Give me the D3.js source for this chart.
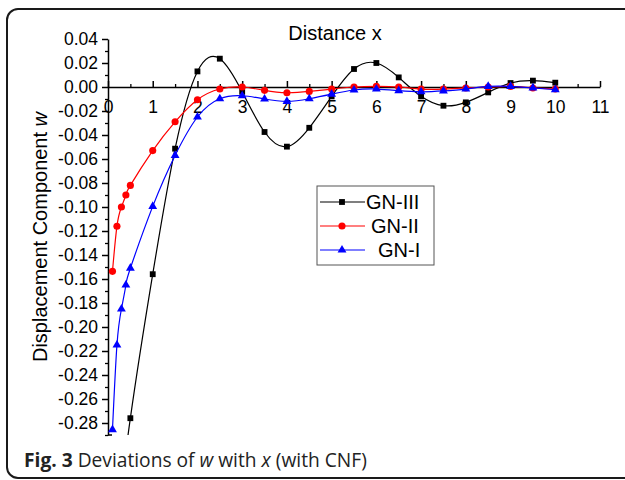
<!DOCTYPE html>
<html>
<head>
<meta charset="utf-8">
<script src="https://cdn.jsdelivr.net/npm/d3@7"></script>
<style>
  body { margin: 0; background: #fff; }
  svg { display: block; }
</style>
</head>
<body>
<svg id="chart" width="625" height="480"></svg>
<script>
// x positions (distance x)
const xs = [0.5, 1, 1.5, 2, 2.5, 3, 3.5, 4, 4.5, 5, 5.5, 6, 6.5, 7, 7.5, 8, 8.5, 9, 9.5, 10];
const xsNear = [0.1, 0.2, 0.3, 0.4, 0.5, 1, 1.5, 2, 2.5, 3, 3.5, 4, 4.5, 5, 5.5, 6, 6.5, 7, 7.5, 8, 8.5, 9, 9.5, 10];

// GN-III, first value at x=0 lies below the visible range (line runs off the bottom)
const gn3x = [0].concat(xs);
const gn3 = [-0.42, -0.276, -0.156, -0.0514, 0.013, 0.0236, -0.004, -0.0375, -0.0497, -0.034, -0.0078,
             0.015, 0.020, 0.008, -0.0078, -0.0156, -0.0128, -0.0045, 0.0033, 0.0053, 0.0036];
const gn2 = [-0.1536, -0.116, -0.100, -0.090, -0.082, -0.053, -0.029, -0.0106, -0.0017, 0.0, -0.0028,
             -0.0048, -0.0037, -0.0017, 0.0, 0.0005, 0.0, -0.0017, -0.0017, -0.0008, 0.0, 0.0005, -0.0008, -0.0017];
const gn1 = [-0.2856, -0.215, -0.185, -0.165, -0.151, -0.0995, -0.057, -0.025, -0.0098, -0.0073, -0.010,
             -0.012, -0.0098, -0.006, -0.0025, -0.0017, -0.003, -0.004, -0.0033, -0.0017, 0.0005, 0.0005, -0.0008, -0.0022];

const seriesNames = ["GN-III", "GN-II", "GN-I"];
const xTicks = [0, 1, 2, 3, 4, 5, 6, 7, 8, 9, 10, 11];
const yTicks = [0.04, 0.02, 0.00, -0.02, -0.04, -0.06, -0.08, -0.10, -0.12, -0.14, -0.16, -0.18, -0.20, -0.22, -0.24, -0.26, -0.28];

const svg = d3.select("#chart");
const chartFont = "'Liberation Sans', Arial, sans-serif";

// outer frame
svg.append("rect")
    .attr("x", 7).attr("y", 9)
    .attr("width", 640).attr("height", 469)
    .attr("rx", 11)
    .attr("fill", "none")
    .attr("stroke", "#1a1a1a")
    .attr("stroke-width", 2);

const x = d3.scaleLinear().domain([0, 11]).range([108, 600]);
const y = d3.scaleLinear().domain([-0.29, 0.04]).range([435, 39]);

const fmt = d => {
    const s = Math.abs(d).toFixed(2);
    return (d < -1e-9 ? "-" : "") + s;
};

// y axis, minor ticks first
const yMinor = d3.range(0.03, -0.295, -0.02);
svg.append("g")
    .attr("transform", `translate(${x(0)},0)`)
    .call(d3.axisLeft(y).tickValues(yMinor).tickSize(3).tickFormat(""))
    .call(g => g.select(".domain").remove())
    .selectAll("line").attr("stroke-width", 1.3);

const yAxis = svg.append("g")
    .attr("transform", `translate(${x(0)},0)`)
    .call(d3.axisLeft(y).tickValues(yTicks).tickSize(6).tickSizeOuter(0).tickPadding(4).tickFormat(fmt));
yAxis.select(".domain").attr("stroke-width", 1.5);
yAxis.selectAll("line").attr("stroke-width", 1.5);
yAxis.selectAll("text")
    .attr("font-family", chartFont)
    .attr("font-size", 17.5)
    .attr("fill", "#000");

// small closing tick at the bottom of the y axis
svg.append("line")
    .attr("x1", x(0)).attr("x2", x(0) + 4)
    .attr("y1", y(-0.29)).attr("y2", y(-0.29))
    .attr("stroke", "#000").attr("stroke-width", 1.5);

// x axis along y = 0, ticks pointing up
const xMinor = d3.range(0.5, 11, 1);
svg.append("g")
    .attr("transform", `translate(0,${y(0)})`)
    .call(d3.axisBottom(x).tickValues(xMinor).tickSize(-3).tickFormat(""))
    .call(g => g.select(".domain").remove())
    .selectAll("line").attr("stroke-width", 1.3);

const xAxis = svg.append("g")
    .attr("transform", `translate(0,${y(0)})`)
    .call(d3.axisBottom(x).tickValues(xTicks).tickSize(-6).tickSizeOuter(0).tickPadding(14).tickFormat(d3.format("d")));
xAxis.select(".domain").attr("stroke-width", 1.5);
xAxis.selectAll("line").attr("stroke-width", 1.5);
xAxis.selectAll("text")
    .attr("font-family", chartFont)
    .attr("font-size", 17.5)
    .attr("fill", "#000");

// titles
svg.append("text")
    .attr("x", 335).attr("y", 40)
    .attr("text-anchor", "middle")
    .attr("font-family", chartFont)
    .attr("font-size", 20)
    .text("Distance x");

const yLab = svg.append("text")
    .attr("transform", "translate(47,237) rotate(-90)")
    .attr("text-anchor", "middle")
    .attr("font-family", chartFont)
    .attr("font-size", 20);
yLab.append("tspan").text("Displacement Component ");
yLab.append("tspan").attr("font-style", "italic").text("w");

// clip region for the plot
svg.append("clipPath").attr("id", "plotClip")
    .append("rect")
    .attr("x", x(0)).attr("y", y(0.04))
    .attr("width", x(11) - x(0)).attr("height", y(-0.29) - y(0.04));

const series = [
    { name: seriesNames[0], xv: gn3x, yv: gn3, color: "#000000", shape: d3.symbolSquare, size: 34 },
    { name: seriesNames[1], xv: xsNear, yv: gn2, color: "#ff0000", shape: d3.symbolCircle, size: 40 },
    { name: seriesNames[2], xv: xsNear, yv: gn1, color: "#0000ff", shape: d3.symbolTriangle, size: 34 }
];

const line = d3.line()
    .x(d => x(d[0]))
    .y(d => y(d[1]))
    .curve(d3.curveNatural);

const plot = svg.append("g").attr("clip-path", "url(#plotClip)");

series.forEach(s => {
    const pts = s.xv.map((v, i) => [v, s.yv[i]]);
    plot.append("path")
        .datum(pts)
        .attr("d", line)
        .attr("fill", "none")
        .attr("stroke", s.color)
        .attr("stroke-width", 1.2);
    plot.selectAll(null)
        .data(pts)
        .enter()
        .append("path")
        .attr("transform", d => `translate(${x(d[0])},${y(d[1])})`)
        .attr("d", d3.symbol().type(s.shape).size(s.size))
        .attr("fill", s.color);
});

// legend
const lg = svg.append("g").attr("transform", "translate(317,186)");
lg.append("rect")
    .attr("width", 117).attr("height", 79)
    .attr("fill", "#fff")
    .attr("stroke", "#555")
    .attr("stroke-width", 1);
const textX = [49, 54, 61];
series.forEach((s, i) => {
    const row = lg.append("g").attr("transform", `translate(0,${16 + i * 24})`);
    row.append("line")
        .attr("x1", 3).attr("x2", 48)
        .attr("stroke", s.color)
        .attr("stroke-width", 1.2);
    row.append("path")
        .attr("transform", "translate(25,0)")
        .attr("d", d3.symbol().type(s.shape).size(s.size))
        .attr("fill", s.color);
    row.append("text")
        .attr("x", textX[i]).attr("y", 7)
        .attr("font-family", chartFont)
        .attr("font-size", 20)
        .text(s.name);
});

// caption
const cap = svg.append("text")
    .attr("x", 24).attr("y", 467)
    .attr("font-family", "'Open Sans', sans-serif")
    .attr("font-size", 19.2)
    .attr("fill", "#222");
cap.append("tspan").attr("font-weight", "bold").text("Fig. 3");
cap.append("tspan").text(" Deviations of ");
cap.append("tspan").attr("font-style", "italic").text("w");
cap.append("tspan").text(" with ");
cap.append("tspan").attr("font-style", "italic").text("x");
cap.append("tspan").text(" (with CNF)");
</script>
</body>
</html>
